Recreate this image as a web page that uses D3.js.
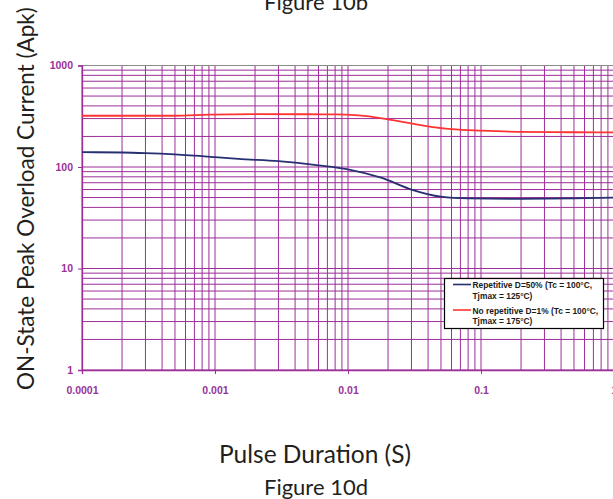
<!DOCTYPE html>
<html>
<head>
<meta charset="utf-8">
<script src="https://cdn.jsdelivr.net/npm/d3@7"></script>
<style>
  html, body { margin: 0; padding: 0; background: #fff; }
  svg { display: block; }
</style>
</head>
<body>
<svg id="chart" width="613" height="499"></svg>
<script>
// Pulse duration (s) vs. on-state peak overload current (A pk)
const repetitiveDuration = [0.0001, 0.0002, 0.0003, 0.0005, 0.001, 0.0015, 0.003, 0.006, 0.01, 0.018, 0.03, 0.05, 0.08, 0.2, 0.5, 1];
const repetitiveCurrent  = [140,    139,    137,    133,    125,   120,    114,   104,   95,   78,    60,   51,   49,   48.5, 49,  50];

const singleDuration = [0.0001, 0.0005, 0.0009, 0.002, 0.005, 0.008, 0.012, 0.018, 0.029, 0.042, 0.06, 0.1, 0.19, 0.5, 1];
const singleCurrent  = [320,    320,    328,    332,   331,   330,   322,   302,   270,   248,   236,   228, 222,  220, 219];

const xTickValues = [0.0001, 0.001, 0.01, 0.1, 1];
const xTickLabels = ["0.0001", "0.001", "0.01", "0.1", "1"];
const yTickValues = [1, 10, 100, 1000];
const yTickLabels = ["1", "10", "100", "1000"];

const seriesNames = [
  ["Repetitive D=50% (Tc = 100°C,", "Tjmax = 125°C)"],
  ["No repetitive D=1% (Tc = 100°C,", "Tjmax = 175°C)"]
];
const seriesColors = ["#262f72", "#ff3333"];

const svg = d3.select("#chart");
const plotLeft = 82, plotRight = 614, plotTop = 65.5, plotBottom = 370;

const x = d3.scaleLog().domain([0.0001, 1]).range([plotLeft, plotRight]);
const y = d3.scaleLog().domain([1, 1000]).range([plotBottom, plotTop]);

const gridColor = "#9c2e98";
const labelColor = "#993399";

// log grid: every 1..9 of each decade
const xGrid = [];
for (let e = -4; e < 0; e++) for (let m = 1; m <= 9; m++) xGrid.push(m * Math.pow(10, e));
xGrid.push(1);
const yGrid = [];
for (let e = 0; e < 3; e++) for (let m = 1; m <= 9; m++) yGrid.push(m * Math.pow(10, e));
yGrid.push(1000);

const grid = svg.append("g");
grid.selectAll("line.h").data(yGrid).join("line").attr("class", "h")
  .attr("x1", plotLeft).attr("x2", plotRight)
  .attr("y1", d => y(d)).attr("y2", d => y(d))
  .attr("stroke", gridColor).attr("stroke-width", 1);
grid.selectAll("line.v").data(xGrid).join("line").attr("class", "v")
  .attr("x1", d => x(d)).attr("x2", d => x(d))
  .attr("y1", plotTop).attr("y2", plotBottom)
  .attr("stroke", gridColor).attr("stroke-width", 1);

// plot frame
svg.append("line").attr("x1", plotLeft).attr("x2", plotRight).attr("y1", plotTop).attr("y2", plotTop)
  .attr("stroke", "#8c8c8c").attr("stroke-width", 1.2);

// axes
const yAxis = svg.append("g").attr("transform", `translate(${plotLeft},0)`)
  .call(d3.axisLeft(y).tickValues(yTickValues).tickFormat((d, i) => yTickLabels[i]).tickSize(4).tickPadding(5));
const xAxis = svg.append("g").attr("transform", `translate(0,${plotBottom})`)
  .call(d3.axisBottom(x).tickValues(xTickValues).tickFormat((d, i) => xTickLabels[i]).tickSize(4).tickPadding(13));
[yAxis, xAxis].forEach(a => {
  a.select(".domain").attr("stroke", gridColor).attr("stroke-width", 1.3);
  a.selectAll(".tick line").attr("stroke", gridColor);
  a.selectAll(".tick text")
    .attr("fill", labelColor)
    .attr("font-family", "'Liberation Sans', Arial, sans-serif")
    .attr("font-weight", "bold")
    .attr("font-size", "10.5px");
});

// curves
const line = d3.line().x(d => x(d[0])).y(d => y(d[1])).curve(d3.curveMonotoneX);
const series = [
  d3.zip(repetitiveDuration, repetitiveCurrent),
  d3.zip(singleDuration, singleCurrent)
];
svg.append("g").selectAll("path").data(series).join("path")
  .attr("d", line)
  .attr("fill", "none")
  .attr("stroke", (d, i) => seriesColors[i])
  .attr("stroke-width", 1.8);

// legend
const legend = svg.append("g").attr("transform", "translate(444.5,278.5)");
legend.append("rect").attr("width", 159).attr("height", 50)
  .attr("fill", "#fff").attr("stroke", "#000").attr("stroke-width", 1.2);
seriesNames.forEach((lines, i) => {
  const g = legend.append("g").attr("transform", `translate(0,${i * 25.5})`);
  g.append("line").attr("x1", 8.5).attr("x2", 26.5).attr("y1", 6).attr("y2", 6)
    .attr("stroke", seriesColors[i]).attr("stroke-width", 1.6);
  lines.forEach((t, j) => {
    g.append("text").attr("x", 28).attr("y", 9.5 + j * 10.5)
      .attr("font-family", "'Liberation Sans', Arial, sans-serif")
      .attr("font-weight", "bold").attr("font-size", "8.4px")
      .attr("fill", "#1a1a1a").text(t);
  });
});

// titles
const titleFont = "Lato, 'Open Sans', sans-serif";
svg.append("text").attr("x", 316).attr("y", 10).attr("text-anchor", "middle")
  .attr("font-family", titleFont).attr("font-size", "22px").attr("fill", "#231f20").text("Figure 10b");
svg.append("text").attr("x", 315).attr("y", 463).attr("text-anchor", "middle")
  .attr("font-family", titleFont).attr("font-size", "24.5px").attr("fill", "#231f20").text("Pulse Duration (S)");
svg.append("text").attr("x", 316).attr("y", 495).attr("text-anchor", "middle")
  .attr("font-family", titleFont).attr("font-size", "22px").attr("fill", "#231f20").text("Figure 10d");
svg.append("text").attr("transform", "translate(33.5,390) rotate(-90)").attr("text-anchor", "start")
  .attr("font-family", titleFont).attr("font-size", "22.5px").attr("fill", "#231f20")
  .text("ON-State Peak Overload Current (Apk)");
</script>
</body>
</html>
